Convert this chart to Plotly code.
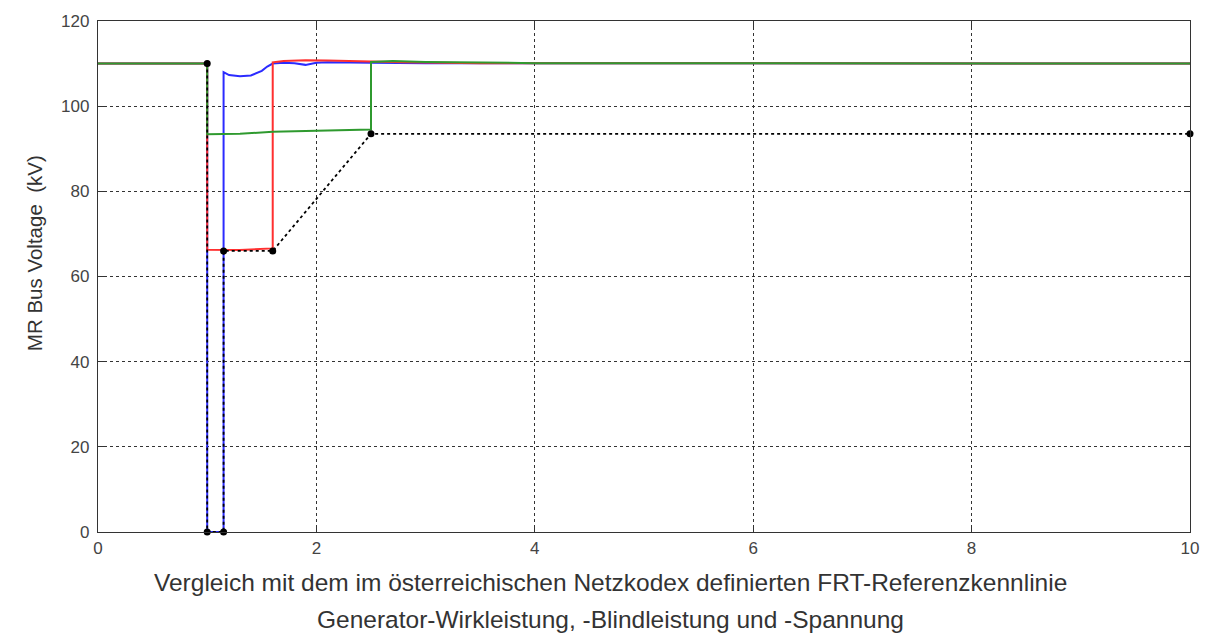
import plotly.graph_objects as go

# Bus voltage traces (time in s, voltage in kV)
t_blue = [0, 1.0, 1.0, 1.15, 1.15, 1.2, 1.3, 1.4, 1.5, 1.55, 1.6, 1.7, 1.8, 1.9, 2.0, 2.1, 2.5, 3.0, 10]
v_blue = [110, 110, 0, 0, 108, 107.3, 107.0, 107.2, 108.3, 109.3, 110.0, 110.2, 110.1, 109.7, 110.2, 110.3, 110.2, 110.1, 110]

t_red = [0, 1.0, 1.0, 1.3, 1.6, 1.6, 1.7, 1.9, 2.1, 2.4, 2.8, 3.5, 10]
v_red = [110, 110, 66.3, 66.2, 66.6, 110.3, 110.6, 110.8, 110.7, 110.5, 110.3, 110.1, 110]

t_green = [0, 1.0, 1.0, 1.3, 1.6, 2.0, 2.5, 2.5, 2.7, 3.0, 3.5, 4.0, 10]
v_green = [110, 110, 93.4, 93.5, 94.0, 94.3, 94.5, 110.4, 110.6, 110.4, 110.2, 110.1, 110]

# FRT reference characteristic
t_frt = [1.0, 1.0, 1.15, 1.15, 1.6, 2.5, 10]
v_frt = [110, 0, 0, 66, 66, 93.5, 93.5]

x_ticks = [0, 2, 4, 6, 8, 10]
y_ticks = [0, 20, 40, 60, 80, 100, 120]

y_title = "MR Bus Voltage&nbsp;&nbsp;(kV)"
caption_1 = "Vergleich mit dem im österreichischen Netzkodex definierten FRT-Referenzkennlinie"
caption_2 = "Generator-Wirkleistung, -Blindleistung und -Spannung"

fig = go.Figure()
fig.add_trace(go.Scatter(x=t_blue, y=v_blue, mode="lines",
                         line=dict(color="#2b2bff", width=2), showlegend=False))
fig.add_trace(go.Scatter(x=t_red, y=v_red, mode="lines",
                         line=dict(color="#ff3030", width=2), showlegend=False))
fig.add_trace(go.Scatter(x=t_green, y=v_green, mode="lines",
                         line=dict(color="#2f9a2f", width=2), showlegend=False))
fig.add_trace(go.Scatter(x=t_frt, y=v_frt, mode="lines+markers",
                         line=dict(color="black", width=1.8, dash="dot"),
                         marker=dict(color="black", size=7),
                         showlegend=False, cliponaxis=False))

axis_common = dict(
    showline=True, linecolor="#333", linewidth=1.3, mirror="ticks",
    ticks="inside", ticklen=6, tickcolor="#333",
    showgrid=True, gridcolor="#333", griddash="dot", gridwidth=1.2,
    zeroline=False, tickfont=dict(family="Liberation Sans, Arial", size=17, color="#444"),
)

fig.update_xaxes(range=[0, 10], tickvals=x_ticks, **axis_common)
fig.update_yaxes(range=[0, 120], tickvals=y_ticks, ticklabelstandoff=4, **axis_common)

fig.update_layout(
    width=1222, height=636,
    margin=dict(l=98, r=32, t=18, b=104),
    plot_bgcolor="white", paper_bgcolor="white",
    font=dict(family="Liberation Sans, Arial", color="#333"),
    annotations=[
        dict(text=y_title, xref="paper", yref="paper", x=-0.058, y=0.545,
             xanchor="center", yanchor="middle", textangle=-90, showarrow=False,
             font=dict(size=20.5, color="#333")),
        dict(text=caption_1, xref="paper", yref="paper", x=0.469, y=-0.098,
             xanchor="center", yanchor="middle", showarrow=False,
             font=dict(size=24.5, color="#333")),
        dict(text=caption_2, xref="paper", yref="paper", x=0.469, y=-0.171,
             xanchor="center", yanchor="middle", showarrow=False,
             font=dict(size=24.5, color="#333")),
    ],
)

fig.write_html("out.html")
